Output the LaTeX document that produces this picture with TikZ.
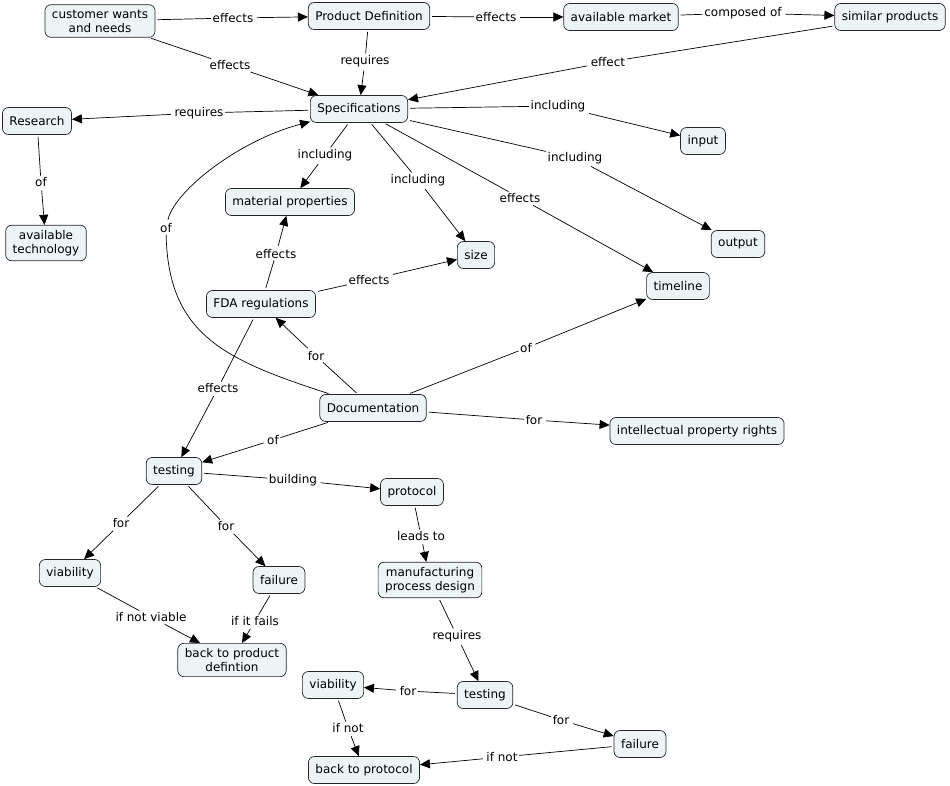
\documentclass[tikz,border=0pt]{standalone}
\usepackage{fontspec}
\setmainfont{DejaVu Sans}
\usetikzlibrary{arrows.meta}
\definecolor{fondconcept}{RGB}{237,244,246}
\tikzset{
  concept/.style={draw=black!85, fill=fondconcept, rounded corners=6pt, line width=0.7pt,
    inner xsep=7pt, inner ysep=5pt, minimum height=27pt, align=center,
    font=\fontsize{12}{14}\selectfont},
  lien/.style={fill=white, inner sep=1.5pt, font=\fontsize{12}{14}\selectfont},
  trait/.style={line width=0.7pt, shorten <=2pt},
  fleche/.style={trait, -{Triangle[length=10pt,width=9pt]}},
}
\begin{document}
\begin{tikzpicture}[x=1pt,y=-1pt]
\useasboundingbox (0,0) rectangle (950,786);
% concepts
\node[concept] (client) at (100,21) {customer wants\\and needs};
\node[concept] (pdef) at (369,16) {Product Definition};
\node[concept] (marche) at (621,17) {available market};
\node[concept] (similaires) at (890,17) {similar products};
\node[concept] (specs) at (359,109) {Specifications};
\node[concept] (recherche) at (37,121) {Research};
\node[concept] (techno) at (46,243) {available\\technology};
\node[concept] (entree) at (703,141) {input};
\node[concept] (materiaux) at (290,202) {material properties};
\node[concept] (taille) at (476,255) {size};
\node[concept] (sortie) at (738,244) {output};
\node[concept] (delai) at (678,286) {timeline};
\node[concept] (fda) at (261,304) {FDA regulations};
\node[concept] (doc) at (373,408) {Documentation};
\node[concept] (pi) at (697,431) {intellectual property rights};
\node[concept] (essais) at (174,471) {testing};
\node[concept] (protocole) at (412,492) {protocol};
\node[concept] (viabilite) at (70,573) {viability};
\node[concept] (echec) at (279,580) {failure};
\node[concept] (fabrication) at (430,580) {manufacturing\\process design};
\node[concept] (retourpd) at (232,660) {back to product\\defintion};
\node[concept] (essaisb) at (485,695) {testing};
\node[concept] (viabiliteb) at (333,685) {viability};
\node[concept] (echecb) at (640,744) {failure};
\node[concept] (retourpr) at (364,770) {back to protocol};
% mots de liaison
\node[lien] (l1) at (233,18) {effects};
\node[lien] (l2) at (230,65) {effects};
\node[lien] (l3) at (365,61) {requires};
\node[lien] (l4) at (496,17) {effects};
\node[lien] (l5) at (743,13) {composed of};
\node[lien] (l6) at (608,62) {effect};
\node[lien] (l7) at (199,113) {requires};
\node[lien] (l8) at (41,182) {of};
\node[lien] (l9) at (558,106) {including};
\node[lien] (l10) at (575,158) {including};
\node[lien] (l11) at (325,155) {including};
\node[lien] (l12) at (418,180) {including};
\node[lien] (l13) at (520,198) {effects};
\node[lien] (l14) at (276,254) {effects};
\node[lien] (l15) at (369,280) {effects};
\node[lien] (l16) at (218,388) {effects};
\node[lien] (l17) at (316,356) {for};
\node[lien] (l18) at (166,228) {of};
\node[lien] (l19) at (526,348) {of};
\node[lien] (l20) at (534,420) {for};
\node[lien] (l21) at (273,440) {of};
\node[lien] (l22) at (293,480) {building};
\node[lien] (l23) at (121,523) {for};
\node[lien] (l24) at (226,526) {for};
\node[lien] (l25) at (151,617) {if not viable};
\node[lien] (l26) at (255,621) {if it fails};
\node[lien] (l27) at (421,536) {leads to};
\node[lien] (l28) at (457,636) {requires};
\node[lien] (l29) at (408,691) {for};
\node[lien] (l30) at (561,720) {for};
\node[lien] (l31) at (348,728) {if not};
\node[lien] (l32) at (502,757) {if not};
% liens, du concept vers le mot puis vers le concept
\draw[trait] (client) -- (l1); \draw[fleche] (l1) -- (pdef);
\draw[trait] (client) -- (l2); \draw[fleche] (l2) -- (specs);
\draw[trait] (pdef) -- (l3); \draw[fleche] (l3) -- (specs);
\draw[trait] (pdef) -- (l4); \draw[fleche] (l4) -- (marche);
\draw[trait] (marche) -- (l5); \draw[fleche] (l5) -- (similaires);
\draw[trait] (similaires) -- (l6); \draw[fleche] (l6) -- (specs);
\draw[trait] (specs) -- (l7); \draw[fleche] (l7) -- (recherche);
\draw[trait] (recherche) -- (l8); \draw[fleche] (l8) -- (techno);
\draw[trait] (specs) -- (l9); \draw[fleche] (l9) -- (entree);
\draw[trait] (specs) -- (l10); \draw[fleche] (l10) -- (sortie);
\draw[trait] (specs) -- (l11); \draw[fleche] (l11) -- (materiaux);
\draw[trait] (specs) -- (l12); \draw[fleche] (l12) -- (taille);
\draw[trait] (specs) -- (l13); \draw[fleche] (l13) -- (delai);
\draw[trait] (fda) -- (l14); \draw[fleche] (l14) -- (materiaux);
\draw[trait] (fda) -- (l15); \draw[fleche] (l15) -- (taille);
\draw[trait] (fda) -- (l16); \draw[fleche] (l16) -- (essais);
\draw[trait] (doc) -- (l17); \draw[fleche] (l17) -- (fda);
\draw[trait] (doc) .. controls (225,360) and (168,335) .. (l18); % courbe
\draw[fleche] (l18) .. controls (175,190) and (240,140) .. (specs);
\draw[trait] (doc) -- (l19); \draw[fleche] (l19) -- (delai);
\draw[trait] (doc) -- (l20); \draw[fleche] (l20) -- (pi);
\draw[trait] (doc) -- (l21); \draw[fleche] (l21) -- (essais);
\draw[trait] (essais) -- (l22); \draw[fleche] (l22) -- (protocole);
\draw[trait] (essais) -- (l23); \draw[fleche] (l23) -- (viabilite);
\draw[trait] (essais) -- (l24); \draw[fleche] (l24) -- (echec);
\draw[trait] (viabilite) -- (l25); \draw[fleche] (l25) -- (retourpd);
\draw[trait] (echec) -- (l26); \draw[fleche] (l26) -- (retourpd);
\draw[trait] (protocole) -- (l27); \draw[fleche] (l27) -- (fabrication);
\draw[trait] (fabrication) -- (l28); \draw[fleche] (l28) -- (essaisb);
\draw[trait] (essaisb) -- (l29); \draw[fleche] (l29) -- (viabiliteb);
\draw[trait] (essaisb) -- (l30); \draw[fleche] (l30) -- (echecb);
\draw[trait] (viabiliteb) -- (l31); \draw[fleche] (l31) -- (retourpr);
\draw[trait] (echecb) -- (l32); \draw[fleche] (l32) -- (retourpr);
\end{tikzpicture}
\end{document}
